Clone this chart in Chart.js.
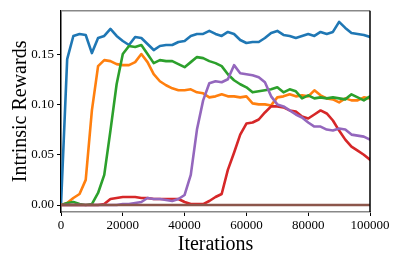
<!DOCTYPE html>
<html>
<head>
<meta charset="utf-8">
<script src="https://cdn.jsdelivr.net/npm/chart.js@4/dist/chart.umd.min.js"></script>
<style>
  html, body { margin: 0; padding: 0; background: #fff; }
  #wrap { width: 399px; height: 259px; }
</style>
</head>
<body>
<div id="wrap"><canvas id="chart" width="399" height="259"></canvas></div>
<script>
// iterations (x values), one every 2000
const iterations = [
    0, 2000, 4000, 6000, 8000, 10000, 12000, 14000, 16000, 18000,
    20000, 22000, 24000, 26000, 28000, 30000, 32000, 34000, 36000, 38000,
    40000, 42000, 44000, 46000, 48000, 50000, 52000, 54000, 56000, 58000,
    60000, 62000, 64000, 66000, 68000, 70000, 72000, 74000, 76000, 78000,
    80000, 82000, 84000, 86000, 88000, 90000, 92000, 94000, 96000, 98000,
    100000
];

const blueRun = [
    0.000, 0.145, 0.168, 0.170, 0.169, 0.151, 0.166, 0.168, 0.175, 0.168,
    0.163, 0.159, 0.167, 0.166, 0.160, 0.154, 0.158, 0.159, 0.159, 0.162,
    0.163, 0.168, 0.170, 0.170, 0.173, 0.170, 0.168, 0.172, 0.170, 0.164,
    0.161, 0.162, 0.162, 0.166, 0.171, 0.173, 0.169, 0.168, 0.166, 0.168,
    0.170, 0.168, 0.172, 0.170, 0.172, 0.182, 0.176, 0.171, 0.170, 0.169,
    0.167
];

const orangeRun = [
    0.000, 0.002, 0.007, 0.011, 0.025, 0.094, 0.138, 0.144, 0.143, 0.140,
    0.139, 0.139, 0.142, 0.150, 0.142, 0.130, 0.123, 0.119, 0.116, 0.114,
    0.114, 0.115, 0.112, 0.111, 0.107, 0.108, 0.110, 0.108, 0.108, 0.107,
    0.108, 0.101, 0.100, 0.100, 0.099, 0.107, 0.108, 0.110, 0.108, 0.109,
    0.108, 0.114, 0.109, 0.106, 0.105, 0.102, 0.106, 0.104, 0.104, 0.107,
    0.106
];

const greenRun = [
    0.000, 0.002, 0.003, 0.001, 0.000, 0.001, 0.012, 0.030, 0.074, 0.120,
    0.150, 0.158, 0.157, 0.159, 0.150, 0.141, 0.144, 0.143, 0.143, 0.140,
    0.137, 0.142, 0.147, 0.146, 0.143, 0.141, 0.138, 0.130, 0.124, 0.120,
    0.117, 0.112, 0.113, 0.114, 0.115, 0.117, 0.112, 0.115, 0.113, 0.106,
    0.109, 0.106, 0.107, 0.106, 0.107, 0.106, 0.105, 0.110, 0.107, 0.104,
    0.108
];

const redRun = [
    0.000, 0.000, 0.000, 0.000, 0.000, 0.000, 0.000, 0.001, 0.006, 0.007,
    0.008, 0.008, 0.008, 0.007, 0.007, 0.006, 0.006, 0.006, 0.006, 0.006,
    0.003, 0.001, 0.001, 0.001, 0.004, 0.008, 0.011, 0.035, 0.052, 0.070,
    0.081, 0.082, 0.085, 0.092, 0.098, 0.098, 0.097, 0.094, 0.093, 0.088,
    0.086, 0.090, 0.094, 0.091, 0.084, 0.074, 0.065, 0.058, 0.054, 0.050,
    0.045
];

const purpleRun = [
    0.000, 0.000, 0.000, 0.000, 0.000, 0.000, 0.000, 0.000, 0.000, 0.000,
    0.001, 0.001, 0.002, 0.003, 0.007, 0.006, 0.006, 0.005, 0.004, 0.006,
    0.010, 0.030, 0.075, 0.104, 0.121, 0.123, 0.122, 0.125, 0.139, 0.131,
    0.130, 0.129, 0.127, 0.122, 0.108, 0.100, 0.098, 0.094, 0.090, 0.087,
    0.082, 0.078, 0.078, 0.075, 0.074, 0.076, 0.075, 0.070, 0.069, 0.068,
    0.065
];

const brownRun = [
    0, 0, 0, 0, 0, 0, 0, 0, 0, 0,
    0, 0, 0, 0, 0, 0, 0, 0, 0, 0,
    0, 0, 0, 0, 0, 0, 0, 0, 0, 0,
    0, 0, 0, 0, 0, 0, 0, 0, 0, 0,
    0, 0, 0, 0, 0, 0, 0, 0, 0, 0,
    0
];

const yTicks = [0, 0.05, 0.10, 0.15];
const xTicks = [0, 20000, 40000, 60000, 80000, 100000];

const runs = [
    { data: blueRun, color: "#1f77b4" },
    { data: orangeRun, color: "#ff7f0e" },
    { data: greenRun, color: "#2ca02c" },
    { data: redRun, color: "#d62728" },
    { data: purpleRun, color: "#9467bd" },
    { data: brownRun, color: "#8c564b" },
];

const FONT = "'Liberation Serif', 'DejaVu Serif', serif";

// top and right spines (Chart.js only draws the axis borders)
const frame = {
    id: "frame",
    afterDraw(chart) {
        const { ctx, chartArea: a } = chart;
        ctx.save();
        ctx.lineWidth = 1.5;
        ctx.strokeStyle = "#888";
        ctx.beginPath();
        ctx.moveTo(a.left, a.top);
        ctx.lineTo(a.right, a.top);
        ctx.stroke();
        ctx.strokeStyle = "#000";
        ctx.beginPath();
        ctx.moveTo(a.right, a.top);
        ctx.lineTo(a.right, a.bottom);
        ctx.stroke();
        ctx.restore();
    },
};

new Chart(document.getElementById("chart"), {
    type: "line",
    data: {
        datasets: runs.map((r, i) => ({
            data: r.data.map((v, k) => ({ x: iterations[k], y: v })),
            borderColor: r.color,
            backgroundColor: r.color,
            borderWidth: 2.6,
            pointRadius: 0,
            tension: 0,
            borderJoinStyle: "round",
            borderCapStyle: "round",
            order: runs.length - i,
        })),
    },
    options: {
        responsive: false,
        animation: false,
        layout: { padding: { left: 0, top: 9, right: 29, bottom: 0 } },
        plugins: { legend: { display: false }, tooltip: { enabled: false } },
        scales: {
            x: {
                type: "linear",
                min: 0,
                max: 100000,
                afterBuildTicks: s => { s.ticks = xTicks.map(v => ({ value: v })); },
                afterFit: s => { s.height = 47; },
                ticks: {
                    color: "#000",
                    font: { family: FONT, size: 13 },
                    padding: 2,
                    maxRotation: 0,
                    callback: v => String(v),
                },
                grid: { drawOnChartArea: false, drawTicks: true, tickLength: 4, color: "#000" },
                border: { color: "#888", width: 1.5 },
                title: {
                    display: true,
                    text: "Iterations",
                    color: "#000",
                    font: { family: FONT, size: 20 },
                    padding: { top: 0, bottom: 2 },
                },
            },
            y: {
                min: -0.0069,
                max: 0.193,
                afterBuildTicks: s => { s.ticks = yTicks.map(v => ({ value: v })); },
                afterFit: s => { s.width = 61; },
                ticks: {
                    color: "#000",
                    font: { family: FONT, size: 13 },
                    padding: 3,
                    callback: v => v.toFixed(2),
                },
                grid: { drawOnChartArea: false, drawTicks: true, tickLength: 4, color: "#000" },
                border: { color: "#000", width: 1.5 },
                title: {
                    display: true,
                    text: "Intrinsic Rewards",
                    color: "#000",
                    font: { family: FONT, size: 20 },
                    padding: { top: 9, bottom: 0 },
                },
            },
        },
    },
    plugins: [frame],
});
</script>
</body>
</html>
